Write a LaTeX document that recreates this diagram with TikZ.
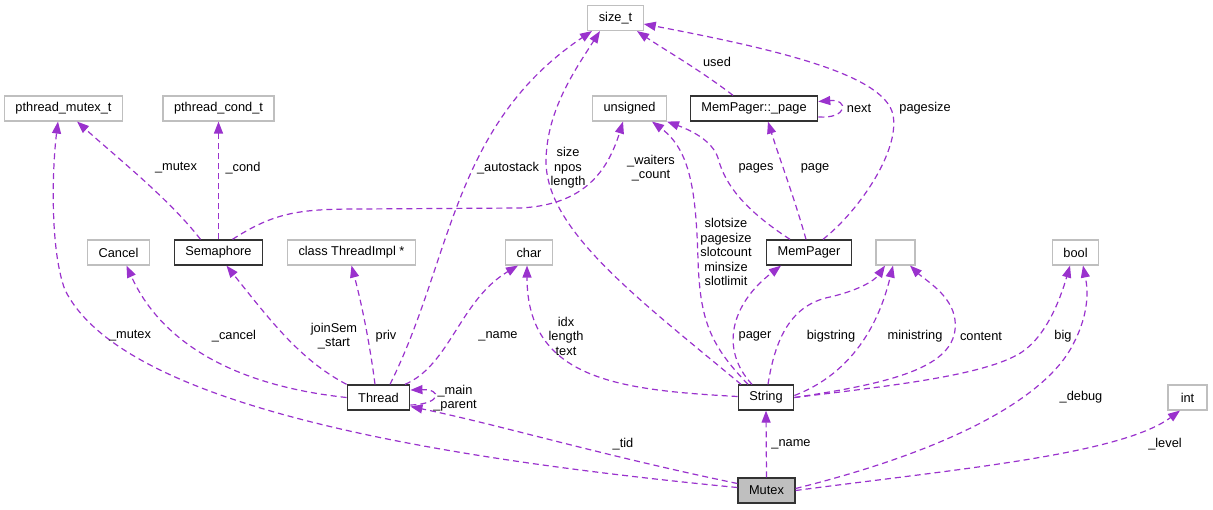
\documentclass[tikz,border=0pt]{standalone}
\usepackage{fontspec}
\setmainfont{Liberation Sans}
\usepackage{tikz}
\usetikzlibrary{arrows.meta}

\definecolor{edgepurple}{HTML}{9A32CD}
\definecolor{boxgray}{HTML}{BFBFBF}

\begin{document}
\begin{tikzpicture}[x=1pt, y=-1pt, line width=1pt,
    font=\fontsize{12.8}{14.5}\selectfont,
    cls/.style={draw=black!80, line width=1.3pt, fill=white, minimum height=25pt,
        minimum width=39pt, inner xsep=11pt, inner ysep=0pt},
    ext/.style={cls, draw=boxgray, line width=1.1pt},
    member/.style={draw=edgepurple, line width=1.2pt, dash pattern=on 6pt off 4pt,
        -{Triangle[length=12pt, width=9pt, fill=edgepurple]}},
    lbl/.style={align=center, inner sep=0pt}]
    \useasboundingbox (0, 0) rectangle (1213, 509);

    % draw class boxes
    \node[ext] (sizet) at (615.5, 18) {size\_t};
    \node[ext] (pmt) at (63.5, 108.5) {pthread\_mutex\_t};
    \node[ext] (pcond) at (218.5, 108.5) {pthread\_cond\_t};
    \node[ext] (uns) at (629.5, 108.5) {unsigned};
    \node[cls] (page) at (754, 108.5) {MemPager::\_page};
    \node[ext] (cancel) at (118.5, 252.5) {Cancel};
    \node[cls] (sem) at (218.5, 252.5) {Semaphore};
    \node[ext] (impl) at (351.5, 252.5) {class ThreadImpl *};
    \node[ext] (chr) at (529, 252.5) {char};
    \node[cls] (pager) at (809, 252.5) {MemPager};
    \node[ext] (blank) at (895.5, 252.5) {};
    \node[ext] (bool) at (1075.5, 252.5) {bool};
    \node[cls] (thread) at (378.5, 397.5) {Thread};
    \node[cls] (string) at (766, 397.5) {String};
    \node[ext] (int) at (1187.5, 397.5) {int};
    \node[cls, fill=boxgray] (mutex) at (766.5, 490.5) {Mutex};

    % draw members of Semaphore
    \draw[member] ([xshift=-18pt]sem.north) .. controls (170, 200) and (120, 160) .. ([xshift=13.5pt]pmt.south);
    \draw[member] (sem.north) -- (pcond.south);
    \draw[member] ([xshift=14pt]sem.north) .. controls (275, 212) and (300, 209) .. (360, 209)
        -- (520, 208) .. controls (585, 205) and (608, 170) .. ([xshift=-6.5pt]uns.south);

    % draw members of MemPager and MemPager::_page
    \draw[member] ([xshift=-21pt]page.north) .. controls (700, 70) and (665, 50) .. ([xshift=21.5pt]sizet.south);
    \draw[member] ([xshift=14pt]pager.north) .. controls (860, 210) and (900, 150) .. (893, 115)
        .. controls (885, 75) and (780, 50) .. ([yshift=-6pt]sizet.east);
    \draw[member] ([yshift=-8.5pt]page.east) .. controls (848, 119) and (849, 99) .. ([yshift=7pt]page.east);
    \draw[member] ([xshift=-19pt]pager.north) .. controls (745, 210) and (725, 185) .. (718, 158)
        .. controls (712, 140) and (690, 130) .. (uns.south east);
    \draw[member] ([xshift=-3pt]pager.north) .. controls (795, 200) and (780, 160) .. ([xshift=14pt]page.south);

    % draw members of Thread
    \draw[member] ([xshift=11.5pt]thread.north) .. controls (452, 260) and (452, 125) .. ([xshift=-23.5pt]sizet.south);
    \draw[member] ([xshift=26.5pt]thread.north) .. controls (450, 365) and (460, 300) .. ([xshift=-11pt]chr.south);
    \draw[member] (thread.west) .. controls (230, 385) and (160, 340) .. ([xshift=8pt]cancel.south);
    \draw[member] (thread.north west) .. controls (300, 360) and (270, 320) .. ([xshift=8pt]sem.south);
    \draw[member] ([xshift=-3.5pt]thread.north) .. controls (368, 330) and (358, 290) .. (impl.south);
    \draw[member] ([yshift=-7.5pt]thread.east) .. controls (442, 404) and (442, 389) .. ([yshift=7.5pt]thread.east);

    % draw members of String
    \draw[member] ([xshift=-25pt]string.north) .. controls (640, 300) and (545, 230) .. (546, 160)
        .. controls (547, 110) and (575, 70) .. ([xshift=-15.5pt]sizet.south);
    \draw[member] ([xshift=-18pt]string.north) .. controls (710, 345) and (700, 320) .. (698, 260)
        .. controls (696, 190) and (690, 150) .. ([xshift=22.5pt]uns.south);
    \draw[member] ([xshift=-14pt]string.north) .. controls (720, 350) and (730, 305) .. ([xshift=-28pt]pager.south);
    \draw[member] ([yshift=1pt]string.west) .. controls (620, 390) and (527, 380) .. ([xshift=-2pt]chr.south);
    \draw[member] ([xshift=2pt]string.north) .. controls (775, 340) and (790, 305) .. (830, 297)
        .. controls (860, 290) and (875, 280) .. ([xshift=-10.5pt]blank.south);
    \draw[member] ([yshift=2pt]string.east) .. controls (840, 378) and (875, 340) .. ([xshift=-2.5pt]blank.south);
    \draw[member] (string.east) .. controls (900, 382) and (960, 365) .. (955, 320)
        .. controls (952, 295) and (925, 280) .. ([xshift=14.5pt]blank.south);
    \draw[member] (string.east) .. controls (900, 385) and (980, 375) .. (1017, 355)
        .. controls (1045, 340) and (1060, 300) .. ([xshift=-5.5pt]bool.south);

    % draw members of Mutex
    \draw[member] (mutex.north) -- (string.south);
    \draw[member] ([yshift=7pt]mutex.west) .. controls (600, 455) and (500, 425) .. ([yshift=-9pt]thread.east);
    \draw[member] ([yshift=3pt]mutex.west) .. controls (400, 455) and (120, 400) .. (65, 290)
        .. controls (50, 250) and (52, 170) .. ([xshift=-5.5pt]pmt.south);
    \draw[member] ([yshift=2pt]mutex.east) .. controls (950, 450) and (1040, 400) .. (1070, 350)
        .. controls (1090, 315) and (1088, 290) .. ([xshift=7.5pt]bool.south);
    \draw[member] (mutex.east) .. controls (950, 470) and (1120, 455) .. ([xshift=-7.5pt]int.south);

    % draw member names
    \node[lbl] (l-semmutex) at (176, 168) {\_mutex};
    \node[lbl] (l-cond) at (243, 168) {\_cond};
    \node[lbl] (l-autostack) at (508, 168) {\_autostack};
    \node[lbl] (l-size) at (568, 168) {size\\npos\\length};
    \node[lbl] (l-waiters) at (651, 168) {\_waiters\\\_count};
    \node[lbl] (l-used) at (717, 62) {used};
    \node[lbl] (l-next) at (859, 108.5) {next};
    \node[lbl] (l-pagesize) at (925, 108.5) {pagesize};
    \node[lbl] (l-pages) at (756, 168) {pages};
    \node[lbl] (l-page) at (815, 168) {page};
    \node[lbl] (l-slots) at (726, 252) {slotsize\\pagesize\\slotcount\\minsize\\slotlimit};
    \node[lbl] (l-mutex) at (130, 336) {\_mutex};
    \node[lbl] (l-cancel) at (234, 336) {\_cancel};
    \node[lbl] (l-join) at (334, 336) {joinSem\\\_start};
    \node[lbl] (l-priv) at (386, 336) {priv};
    \node[lbl] (l-tname) at (498, 336) {\_name};
    \node[lbl] (l-idx) at (566, 336) {idx\\length\\text};
    \node[lbl] (l-pager) at (755, 336) {pager};
    \node[lbl] (l-big) at (831, 336) {bigstring};
    \node[lbl] (l-mini) at (915, 336) {ministring};
    \node[lbl] (l-content) at (981, 336) {content};
    \node[lbl] (l-bool) at (1063, 336) {big};
    \node[lbl] (l-main) at (455, 398) {\_main\\\_parent};
    \node[lbl] (l-debug) at (1081, 397) {\_debug};
    \node[lbl] (l-tid) at (623, 444) {\_tid};
    \node[lbl] (l-name) at (791, 444) {\_name};
    \node[lbl] (l-level) at (1165, 444) {\_level};
\end{tikzpicture}
\end{document}
